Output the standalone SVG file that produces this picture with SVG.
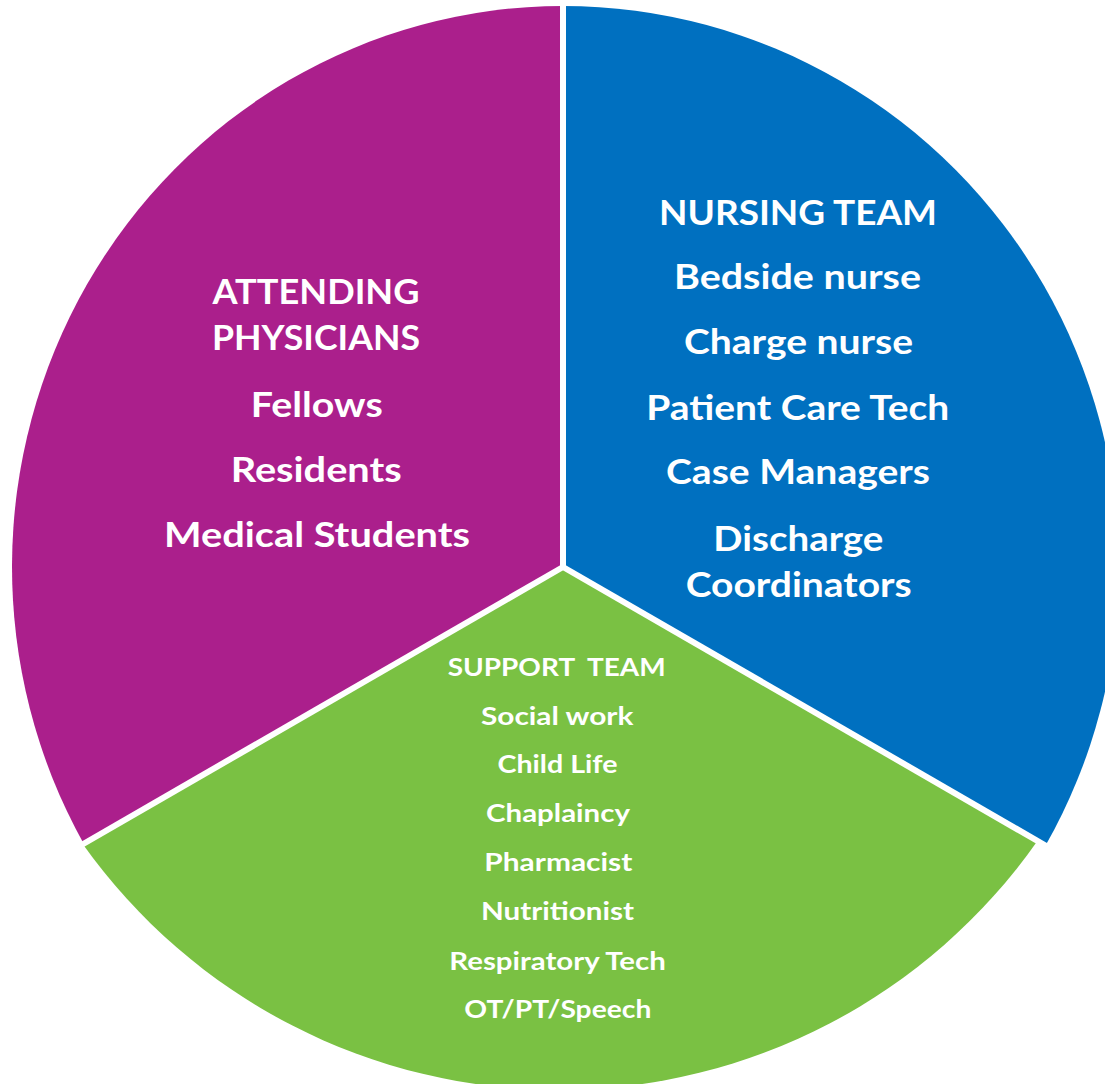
<svg xmlns="http://www.w3.org/2000/svg" width="1105" height="1084" viewBox="0 0 1105 1084">
  <style>
    .lbl { font-family: Lato, "Open Sans", "Liberation Sans", sans-serif; font-weight: 700; fill: #FFFFFF; text-anchor: middle; }
    .big { font-size: 34px; }
    .small { font-size: 24px; }
    .divider { stroke: #FFFFFF; stroke-width: 6; stroke-linecap: butt; fill: none; }
  </style>
  <rect x="0" y="0" width="1105" height="1084" fill="#FFFFFF"/>

  <g id="attending">
    <path d="M563,567 L563,6 A551,561 0 0 0 83.7,843.7 Z" fill="#AB1F8C"/>
    <text class="lbl big" x="316" y="304.3" textLength="207" lengthAdjust="spacingAndGlyphs">ATTENDING</text>
    <text class="lbl big" x="316" y="350" textLength="208" lengthAdjust="spacingAndGlyphs">PHYSICIANS</text>
    <text class="lbl big" x="316.7" y="416.7" textLength="132" lengthAdjust="spacingAndGlyphs">Fellows</text>
    <text class="lbl big" x="316.2" y="481.7" textLength="171" lengthAdjust="spacingAndGlyphs">Residents</text>
    <text class="lbl big" x="317" y="546.7" textLength="306" lengthAdjust="spacingAndGlyphs">Medical Students</text>
  </g>

  <g id="nursing">
    <path d="M563,567 L563,6 A556,561 0 0 1 1045.5,845.6 Z" fill="#0070C0"/>
    <text class="lbl big" x="798" y="225" textLength="278" lengthAdjust="spacingAndGlyphs">NURSING TEAM</text>
    <text class="lbl big" x="797.5" y="289" textLength="247" lengthAdjust="spacingAndGlyphs">Bedside nurse</text>
    <text class="lbl big" x="798.5" y="354" textLength="229" lengthAdjust="spacingAndGlyphs">Charge nurse</text>
    <text class="lbl big" x="797.8" y="419.8" textLength="303" lengthAdjust="spacingAndGlyphs">Patient Care Tech</text>
    <text class="lbl big" x="798" y="484.3" textLength="264" lengthAdjust="spacingAndGlyphs">Case Managers</text>
    <text class="lbl big" x="798.3" y="551" textLength="170" lengthAdjust="spacingAndGlyphs">Discharge</text>
    <text class="lbl big" x="798.7" y="596.5" textLength="226" lengthAdjust="spacingAndGlyphs">Coordinators</text>
  </g>

  <g id="support">
    <path d="M563,567 L1037.4,840.9 A584,584 0 0 1 82.9,844.2 Z" fill="#7AC143"/>
    <text class="lbl small" x="556.7" y="675.5" textLength="218" lengthAdjust="spacingAndGlyphs" xml:space="preserve" style="white-space:pre">SUPPORT  TEAM</text>
    <text class="lbl small" x="557.2" y="724.5" textLength="152.5" lengthAdjust="spacingAndGlyphs">Social work</text>
    <text class="lbl small" x="557.5" y="773.4" textLength="120" lengthAdjust="spacingAndGlyphs">Child Life</text>
    <text class="lbl small" x="558" y="822" textLength="144" lengthAdjust="spacingAndGlyphs">Chaplaincy</text>
    <text class="lbl small" x="558.3" y="871" textLength="148" lengthAdjust="spacingAndGlyphs">Pharmacist</text>
    <text class="lbl small" x="557.5" y="920.2" textLength="153" lengthAdjust="spacingAndGlyphs">Nutritionist</text>
    <text class="lbl small" x="557.5" y="969.8" textLength="216.5" lengthAdjust="spacingAndGlyphs">Respiratory Tech</text>
    <text class="lbl small" x="557.8" y="1018.4" textLength="187" lengthAdjust="spacingAndGlyphs">OT/PT/Speech</text>
  </g>

  <g id="connectors">
    <line class="divider" x1="563" y1="567" x2="563" y2="0"/>
    <line class="divider" x1="563" y1="567" x2="65" y2="854.5"/>
    <line class="divider" x1="563" y1="567" x2="1061" y2="854.5"/>
  </g>
</svg>
